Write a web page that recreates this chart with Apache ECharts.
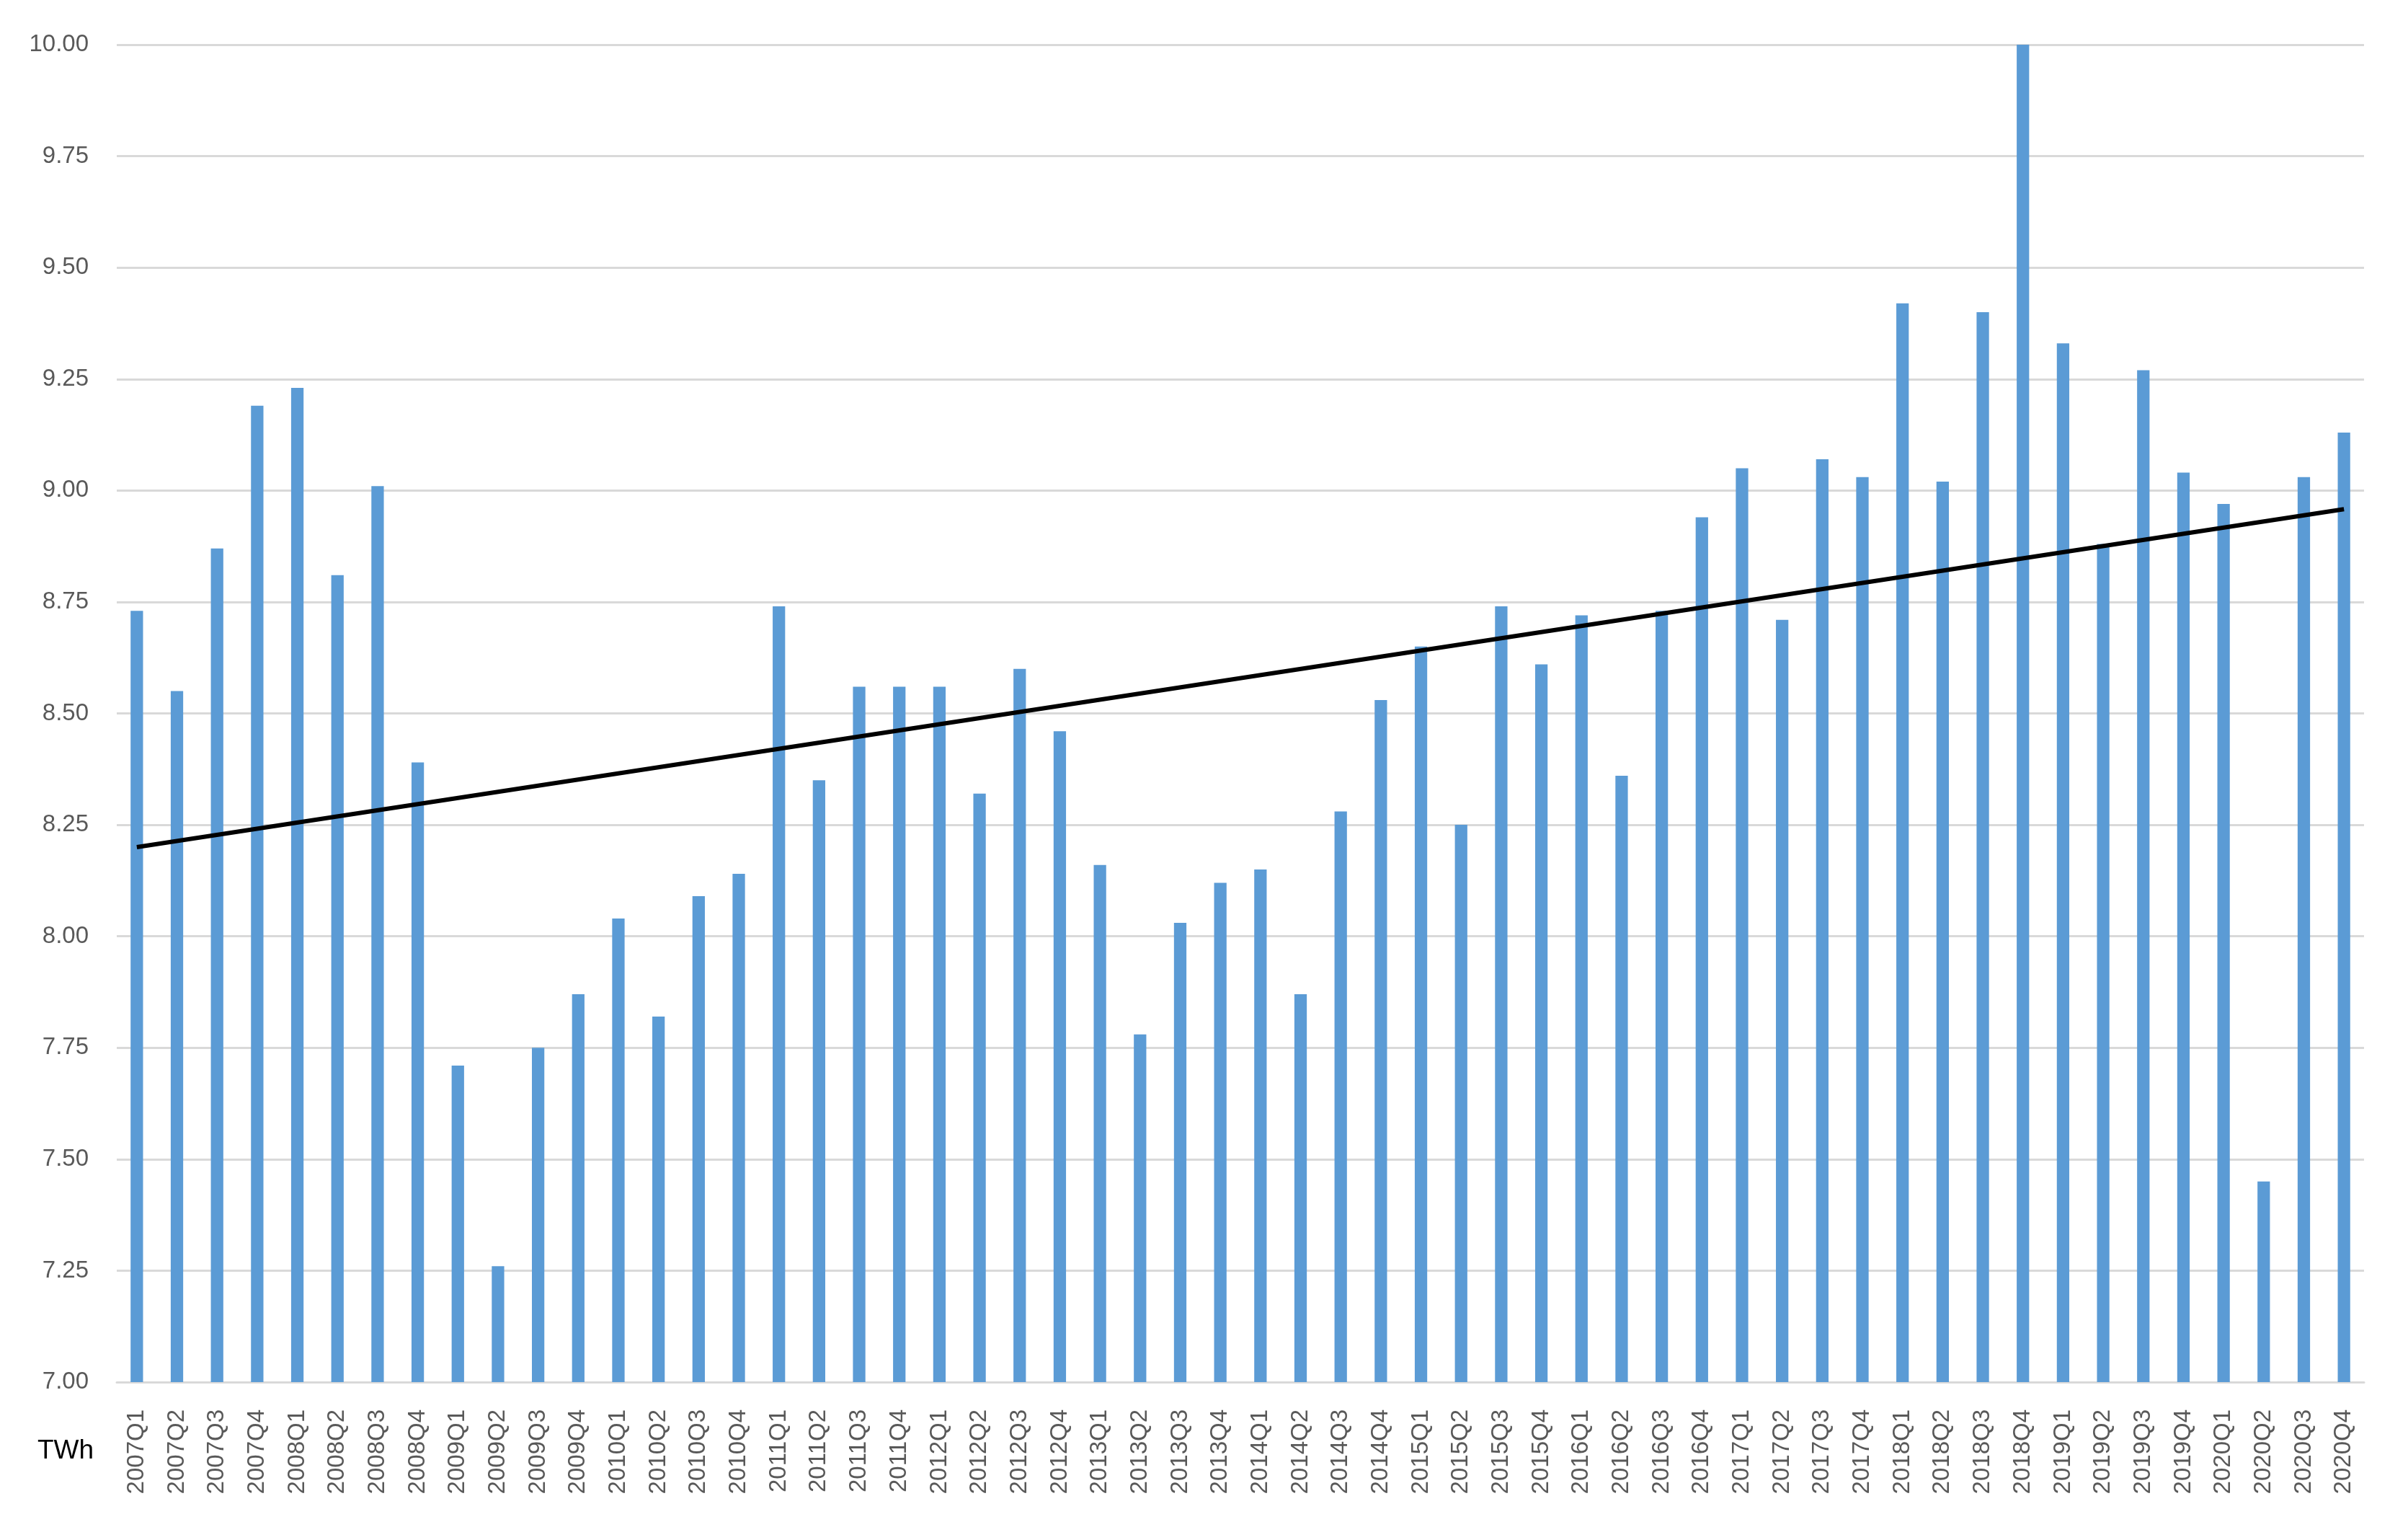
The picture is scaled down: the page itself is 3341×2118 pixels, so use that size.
<!DOCTYPE html>
<html>
<head>
<meta charset="utf-8">
<script src="https://cdn.jsdelivr.net/npm/echarts@6/dist/echarts.min.js"></script>
<style>
html,body{margin:0;padding:0;background:#fff;}
#chart{width:3341px;height:2118px;}
</style>
</head>
<body>
<div id="chart"></div>
<script>
const categories = [
  "2007Q1","2007Q2","2007Q3","2007Q4",
  "2008Q1","2008Q2","2008Q3","2008Q4",
  "2009Q1","2009Q2","2009Q3","2009Q4",
  "2010Q1","2010Q2","2010Q3","2010Q4",
  "2011Q1","2011Q2","2011Q3","2011Q4",
  "2012Q1","2012Q2","2012Q3","2012Q4",
  "2013Q1","2013Q2","2013Q3","2013Q4",
  "2014Q1","2014Q2","2014Q3","2014Q4",
  "2015Q1","2015Q2","2015Q3","2015Q4",
  "2016Q1","2016Q2","2016Q3","2016Q4",
  "2017Q1","2017Q2","2017Q3","2017Q4",
  "2018Q1","2018Q2","2018Q3","2018Q4",
  "2019Q1","2019Q2","2019Q3","2019Q4",
  "2020Q1","2020Q2","2020Q3","2020Q4"
];
const consumption = [
  8.73, 8.55, 8.87, 9.19,
  9.23, 8.81, 9.01, 8.39,
  7.71, 7.26, 7.75, 7.87,
  8.04, 7.82, 8.09, 8.14,
  8.74, 8.35, 8.56, 8.56,
  8.56, 8.32, 8.60, 8.46,
  8.16, 7.78, 8.03, 8.12,
  8.15, 7.87, 8.28, 8.53,
  8.65, 8.25, 8.74, 8.61,
  8.72, 8.36, 8.73, 8.94,
  9.05, 8.71, 9.07, 9.03,
  9.42, 9.02, 9.40, 10.00,
  9.33, 8.88, 9.27, 9.04,
  8.97, 7.45, 9.03, 9.13
];
// Linear trend line end points
const trendStart = 8.20;
const trendEnd = 8.958;
const yTicks = { min: 7, max: 10, interval: 0.25 };
const unitLabel = "TWh";

const chart = echarts.init(document.getElementById('chart'), null, {renderer: 'canvas'});
const font = "'Liberation Sans', Arial, sans-serif";
const option = {
  backgroundColor: '#ffffff',
  animation: false,
  grid: { left: 162, right: 61, top: 62, bottom: 201, containLabel: false },
  xAxis: {
    type: 'category',
    data: categories,
    boundaryGap: true,
    axisLine: { show: true, lineStyle: { color: '#d9d9d9', width: 3 } },
    axisTick: { show: false },
    axisLabel: {
      rotate: 90,
      interval: 0,
      margin: 38,
      color: '#595959',
      fontSize: 33,
      fontFamily: font
    },
    splitLine: { show: false }
  },
  yAxis: {
    type: 'value',
    min: yTicks.min,
    max: yTicks.max,
    interval: yTicks.interval,
    axisLine: { show: false },
    axisTick: { show: false },
    axisLabel: {
      margin: 39,
      color: '#595959',
      fontSize: 33,
      fontFamily: font,
      formatter: v => v.toFixed(2)
    },
    splitLine: { show: true, lineStyle: { color: '#d9d9d9', width: 3 } }
  },
  series: [
    {
      type: 'bar',
      data: consumption,
      barWidth: '31%',
      itemStyle: { color: '#5b9bd5' },
      z: 2
    },
    {
      type: 'line',
      data: [[categories[0], trendStart], [categories[categories.length - 1], trendEnd]],
      symbol: 'none',
      lineStyle: { color: '#000000', width: 6 },
      z: 5
    }
  ],
  graphic: [
    {
      type: 'text',
      left: 52,
      top: 1994,
      style: {
        text: unitLabel,
        fill: '#000000',
        fontSize: 37,
        fontFamily: font
      }
    }
  ]
};
chart.setOption(option);
</script>
</body>
</html>
